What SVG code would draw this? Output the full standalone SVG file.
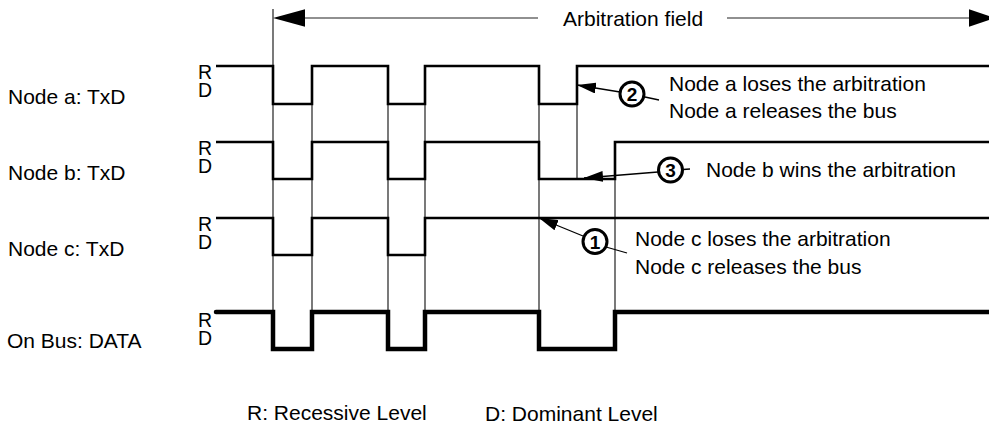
<svg xmlns="http://www.w3.org/2000/svg" width="989" height="426" viewBox="0 0 989 426">
<style>
text{font-family:"Liberation Sans",Arial,sans-serif;fill:#000}
.lbl{font-size:21px}
.rd{font-size:19.5px}
.num{font-size:19px;font-weight:bold;text-anchor:middle}
.sig{fill:none;stroke:#000;stroke-width:2.6;stroke-linejoin:miter}
.bus{fill:none;stroke:#000;stroke-width:4.5;stroke-linejoin:miter}
.thin{fill:none;stroke:#222;stroke-width:1.2}
.ann{fill:none;stroke:#000;stroke-width:1.3}
.circ{fill:#fff;stroke:#000;stroke-width:3}
</style>
<defs>
<marker id="ah" viewBox="0 0 19 11" refX="19" refY="5.5" markerWidth="19" markerHeight="11" markerUnits="userSpaceOnUse" orient="auto"><path d="M0,0 L19,5.5 L0,11 z" fill="#000"/></marker>
</defs>
<rect width="989" height="426" fill="#fff"/>

<g id="connectors">
<path class="thin" d="M273,9 V312 M312,104 V312 M388,104 V312 M425,104 V312 M539,104 V312 M577,104 V179 M615,142 V312"/>
<path class="thin" d="M305,18 H538 M727,18 H969"/>
<polygon points="273,18 305,9.3 305,26.7" fill="#000"/>
<polygon points="995,18 969,9.3 969,26.7" fill="#000"/>
<path class="ann" d="M620,92 L577,85" marker-end="url(#ah)"/>
<path class="ann" d="M645,97 L659,100"/>
<path class="ann" d="M658,172 L584,178" marker-end="url(#ah)"/>
<path class="ann" d="M683,169.5 L690,169"/>
<path class="ann" d="M583,236 L539,218" marker-end="url(#ah)"/>
<path class="ann" d="M606,247 L627,253"/>
</g>

<g id="title"><text class="lbl" x="563" y="26">Arbitration field</text></g>

<g id="node-a">
<text class="lbl" x="8" y="104">Node a: TxD</text>
<text class="rd" x="198" y="79">R</text>
<text class="rd" x="198" y="97">D</text>
<path class="sig" d="M216,66 H273 V104 H312 V66 H388 V104 H425 V66 H539 V104 H577 V66 H989"/>
</g>

<g id="node-b">
<text class="lbl" x="8" y="180">Node b: TxD</text>
<text class="rd" x="198" y="155">R</text>
<text class="rd" x="198" y="173">D</text>
<path class="sig" d="M216,142 H273 V179 H312 V142 H388 V179 H425 V142 H539 V179 H615 V142 H989"/>
</g>

<g id="node-c">
<text class="lbl" x="8" y="256">Node c: TxD</text>
<text class="rd" x="198" y="231">R</text>
<text class="rd" x="198" y="249">D</text>
<path class="sig" d="M216,218 H273 V255 H312 V218 H388 V255 H425 V218 H989"/>
</g>

<g id="bus">
<text class="lbl" x="7" y="348">On Bus: DATA</text>
<text class="rd" x="198" y="327">R</text>
<text class="rd" x="198" y="345">D</text>
<path class="bus" d="M216,312 H273 V349 H312 V312 H388 V349 H425 V312 H539 V349 H615 V312 H989" stroke-linecap="round"/>
</g>

<g id="callout-2">
<circle class="circ" cx="632" cy="94" r="12"/>
<text class="num" x="632" y="101">2</text>
<text class="lbl" x="669" y="91">Node a loses the arbitration</text>
<text class="lbl" x="669" y="118">Node a releases the bus</text>
</g>

<g id="callout-3">
<circle class="circ" cx="670.5" cy="170" r="12"/>
<text class="num" x="670.5" y="177">3</text>
<text class="lbl" x="706" y="177">Node b wins the arbitration</text>
</g>

<g id="callout-1">
<circle class="circ" cx="595" cy="241.5" r="12"/>
<text class="num" x="595" y="248.5">1</text>
<text class="lbl" x="635" y="246">Node c loses the arbitration</text>
<text class="lbl" x="635" y="274">Node c releases the bus</text>
</g>

<g id="legend">
<text class="lbl" x="247" y="420">R: Recessive Level</text>
<text class="lbl" x="485" y="421">D: Dominant Level</text>
</g>
</svg>
